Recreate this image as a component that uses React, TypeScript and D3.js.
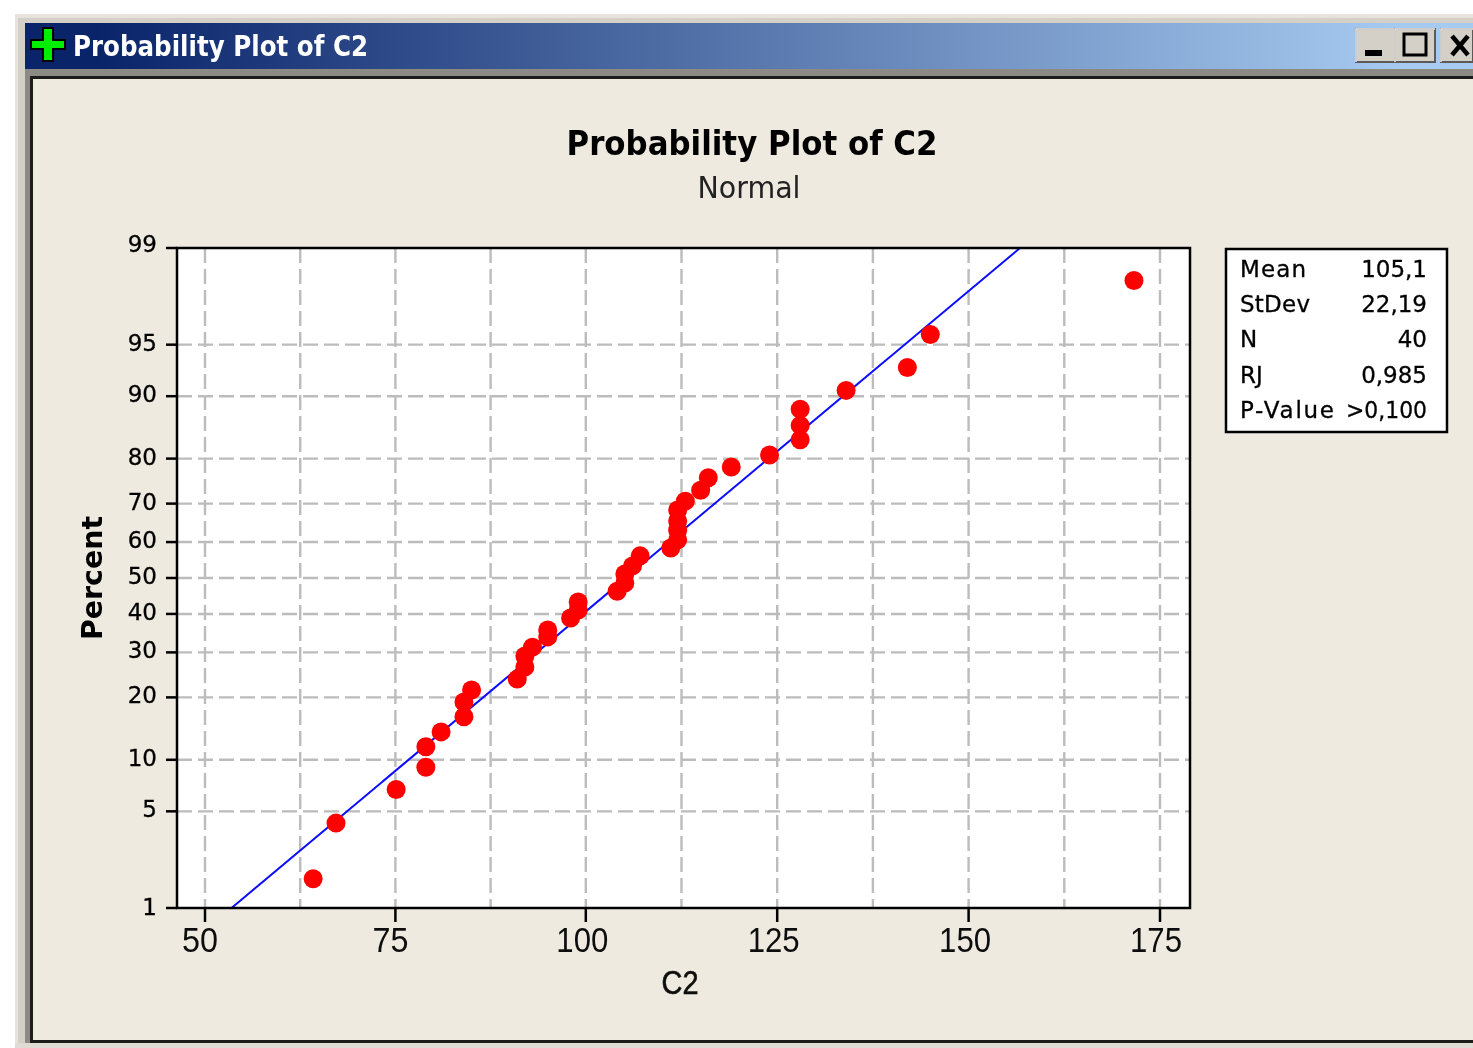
import React from "react";
import * as d3 from "d3";

const xValues = [64.2,67.2,75.1,79,79,81,84,84,85,91,92,92,93,95,95,98,99,99,104.1,105.1,105.1,106.1,107.1,111.1,112,112,112,112,113,115,116,119,124,128,128,128,134,142,145,171.6];
const percentValues = [1.7,4.2,6.8,9.1,11.7,13.9,16.4,19.1,21.5,23.8,26.5,29.1,31.3,33.9,35.7,38.9,41.1,43.3,46.3,48.6,51.1,53.4,56.2,58.4,60.6,63.2,65.6,68.4,70.6,73.2,76.0,78.3,80.7,83.5,85.9,88.3,90.7,93.1,95.7,98.2];
const xTicks = [50,75,100,125,150,175];
const xMinor = [62.5,87.5,112.5,137.5,162.5];
const yTicks = [1,5,10,20,30,40,50,60,70,80,90,95,99];
const gridY = [5,10,20,30,40,50,60,70,80,90,95];
const statsLabels = ["Mean","StDev","N","RJ","P-Value"];
const statsValues = ["105,1","22,19","40","0,985",">0,100"];
const MEAN = 105.1, SD = 22.19;

// inverse normal CDF (Acklam)
function probit(p: number) {
  const a=[-39.69683028665376,220.9460984245205,-275.9285104469687,138.357751867269,-30.66479806614716,2.506628277459239];
  const b=[-54.47609879822406,161.5858368580409,-155.6989798598866,66.80131188771972,-13.28068155288572];
  const c=[-0.007784894002430293,-0.3223964580411365,-2.400758277161838,-2.549732539343734,4.374664141464968,2.938163982698783];
  const d=[0.007784695709041462,0.3224671290700398,2.445134137142996,3.754408661907416];
  if (p<0.02425){const q=Math.sqrt(-2*Math.log(p));return (((((c[0]*q+c[1])*q+c[2])*q+c[3])*q+c[4])*q+c[5])/((((d[0]*q+d[1])*q+d[2])*q+d[3])*q+1);}
  if (p>1-0.02425){const q=Math.sqrt(-2*Math.log(1-p));return -(((((c[0]*q+c[1])*q+c[2])*q+c[3])*q+c[4])*q+c[5])/((((d[0]*q+d[1])*q+d[2])*q+d[3])*q+1);}
  const q=p-0.5,r=q*q;
  return (((((a[0]*r+a[1])*r+a[2])*r+a[3])*r+a[4])*r+a[5])*q/(((((b[0]*r+b[1])*r+b[2])*r+b[3])*r+b[4])*r+1);
}

const L=177,R=1190,T=248,B=908;
const xScale = d3.scaleLinear().domain([50,100,175]).range([205,585.8,1160]);
const zScale = d3.scaleLinear().domain([probit(0.01),probit(0.99)]).range([B,T]);
const y = (pct:number)=>zScale(probit(pct/100));
const linePts = [-2.326,2.326].map(z=>[MEAN+z*SD,z] as [number,number]);
const linePath = d3.line<[number,number]>().x(d=>xScale(d[0])).y(d=>zScale(d[1]))(linePts) as string;
const FONT = "'Liberation Sans', Arial, sans-serif";
const DV = "'DejaVu Sans', sans-serif";
const labelLen: Record<string,number> = {Mean:66,StDev:70,"P-Value":94};

export default function App() {
  return (
    <svg width={1473} height={1048} style={{position:"absolute",left:0,top:0,display:"block",background:"#fff"}}>
      <defs>
        <linearGradient id="tb" x1="0" x2="1" y1="0" y2="0">
          <stop offset="0" stopColor="#0a246a"/><stop offset="0.05" stopColor="#0a246a"/><stop offset="0.95" stopColor="#a6caf0"/><stop offset="1" stopColor="#a6caf0"/>
        </linearGradient>
        <filter id="soft" x="-5%" y="-5%" width="110%" height="110%"><feGaussianBlur stdDeviation="0.72"/></filter>
        <clipPath id="plot"><rect x={L} y={T} width={R-L} height={B-T}/></clipPath>
      </defs>
      {/* window chrome */}
      <rect x={15} y={14} width={1458} height={1034} fill="#e6e3dd"/>
      <rect x={18} y={18} width={1455} height={1030} fill="#d4d0c8"/>
      <rect x={25} y={23} width={1448} height={46} fill="url(#tb)"/>
      <rect x={25} y={69} width={1448} height={979} fill="#8c8a85"/>
      <rect x={30} y={76} width={1443} height={967} fill="#1c1c1a"/>
      <rect x={33} y={79} width={1440} height={961} fill="#eeeae0"/>
      <rect x={15} y={1043} width={1458} height={5} fill="#dfdcd5"/>
      <g filter="url(#soft)">
        <path d="M43 28h10v12h12v9h-12v12h-10v-12h-12v-9h12z" fill="#00ee00" stroke="#000" strokeWidth={2}/>
        <text x={73} y={56} fill="#fff" fontFamily={DV} fontWeight={700} fontSize={27.5} textLength={295} lengthAdjust="spacingAndGlyphs">Probability Plot of C2</text>
        {[[1356,39],[1395,40],[1441,32]].map(([bx,w])=>(
          <g key={bx}>
            <rect x={bx} y={29} width={w} height={33} fill="#d4d0c8" stroke="#5c5a56" strokeWidth={2}/>
            <path d={`M${bx} 62V29H${bx+w}`} fill="none" stroke="#f4f3f0" strokeWidth={1.5}/>
          </g>
        ))}
        <rect x={1365} y={50} width={17} height={6} fill="#000"/>
        <rect x={1404} y={34} width={22} height={21} fill="none" stroke="#000" strokeWidth={3}/>
        <path d="M1452 36l16 19M1468 36l-16 19" stroke="#000" strokeWidth={4.5}/>
      </g>

      <rect x={L} y={T} width={R-L} height={B-T} fill="#fff"/>
      <g filter="url(#soft)">
        <g stroke="#bcbcbc" strokeWidth={2.4} strokeDasharray="15 6" fill="none">
          {[...xTicks,...xMinor].map(v=><line key={v} x1={xScale(v)} x2={xScale(v)} y1={T} y2={B}/>)}
          {gridY.map(v=><line key={v} x1={L} x2={R} y1={y(v)} y2={y(v)}/>)}
        </g>
        <path d={linePath} clipPath="url(#plot)" stroke="#0808ff" strokeWidth={2} fill="none"/>
        {xValues.map((v,i)=><circle key={i} cx={xScale(v)} cy={y(percentValues[i])} r={9.5} fill="#ff0000"/>)}
        <rect x={L} y={T} width={R-L} height={B-T} fill="none" stroke="#000" strokeWidth={2.5}/>
        {yTicks.map(v=><line key={v} x1={166} x2={L} y1={y(v)} y2={y(v)} stroke="#000" strokeWidth={2.5}/>)}
        {xTicks.map(v=><line key={v} x1={xScale(v)} x2={xScale(v)} y1={B} y2={922} stroke="#000" strokeWidth={2.5}/>)}
        <g fontFamily={DV} fontSize={23} fill="#000" stroke="#000" strokeWidth={0.3}>
          {yTicks.map(v=><text key={v} x={157} y={y(v)+(v===99?4:v===1?7:6)} textAnchor="end">{v}</text>)}
        </g>
        <g fontFamily={FONT} fontSize={35} fill="#111">
          {xTicks.map(v=><text key={v} x={xScale(v)-(v>=100&&v<175?3.5:v===175?4:5)} y={952} textAnchor="middle" textLength={v===50||v===75?36:52} lengthAdjust="spacingAndGlyphs">{v}</text>)}
        </g>
        <text x={680} y={994} textAnchor="middle" fontFamily={FONT} fontSize={33} fill="#111" stroke="#111" strokeWidth={0.6} textLength={37} lengthAdjust="spacingAndGlyphs">C2</text>
        <text x={752} y={155} textAnchor="middle" fontFamily={DV} fontWeight={700} fontSize={33} fill="#000" textLength={371} lengthAdjust="spacingAndGlyphs">Probability Plot of C2</text>
        <text x={749} y={198} textAnchor="middle" fontFamily={DV} fontSize={30} fill="#222" textLength={103} lengthAdjust="spacingAndGlyphs">Normal</text>
        <text transform="translate(102,578) rotate(-90)" textAnchor="middle" fontFamily={DV} fontWeight={700} fontSize={28} fill="#000" textLength={124} lengthAdjust="spacingAndGlyphs">Percent</text>
        <rect x={1226} y={249} width={221} height={183} fill="#fff" stroke="#000" strokeWidth={2.5}/>
        {statsLabels.map((k,i)=>(
          <g key={k} fontFamily={DV} fontSize={23} fill="#000" stroke="#000" strokeWidth={0.3}>
            <text x={1240} y={277+i*35.2} textLength={labelLen[k]} lengthAdjust="spacing">{k}</text>
            <text x={1427} y={277+i*35.2} textAnchor="end" textLength={statsValues[i].startsWith(">")?81:undefined} lengthAdjust="spacingAndGlyphs">{statsValues[i]}</text>
          </g>
        ))}
      </g>
    </svg>
  );
}
